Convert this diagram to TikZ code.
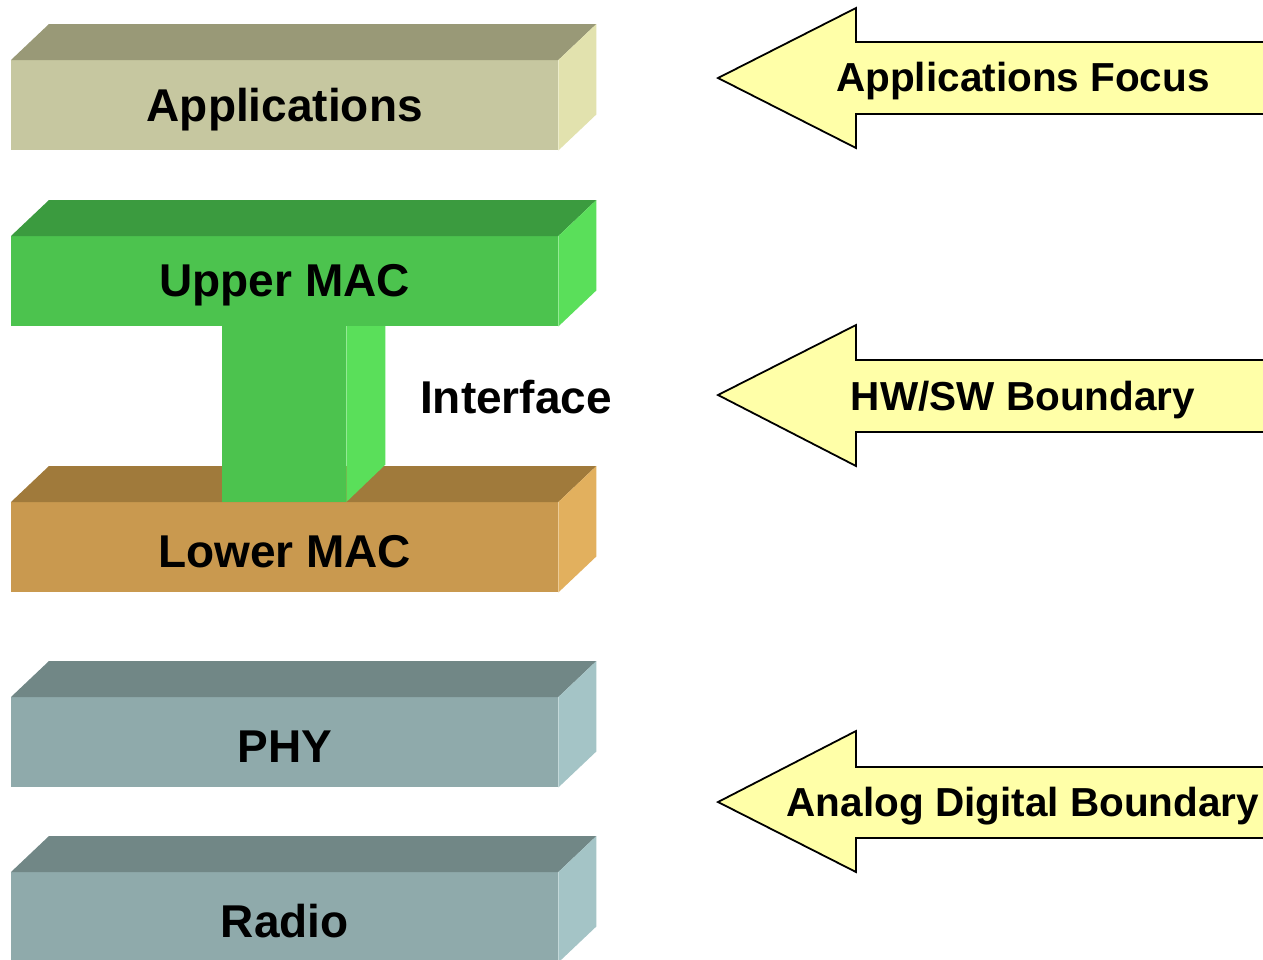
\documentclass[tikz,border=0pt]{standalone}
\usepackage{fontspec}
\setmainfont{Liberation Sans}
\definecolor{appF}{HTML}{C6C7A0}
\definecolor{appT}{HTML}{999977}
\definecolor{appS}{HTML}{E2E2AE}
\definecolor{umF}{HTML}{4CC34E}
\definecolor{umT}{HTML}{3B9B3F}
\definecolor{umS}{HTML}{5ADF5A}
\definecolor{lmF}{HTML}{C9994F}
\definecolor{lmT}{HTML}{A07A3B}
\definecolor{lmS}{HTML}{E2B05E}
\definecolor{phyF}{HTML}{8FAAAB}
\definecolor{phyT}{HTML}{718786}
\definecolor{phyS}{HTML}{A4C4C6}
\definecolor{arrowyellow}{HTML}{FFFFA8}
\newcommand\slablayer[6]{%
  \node[fill=#3, minimum width=547pt, minimum height=90pt, inner sep=0pt, anchor=north west] (#1) at (11,#2) {};
  \fill[#4] (#1.north west) -- ++(38,-36) -- ([shift={(38pt,36pt)}]#1.north east) -- (#1.north east) -- cycle;
  \fill[#5] (#1.north east) -- ++(38,-36) -- ([shift={(38pt,36pt)}]#1.south east) -- (#1.south east) -- cycle;
  \node[lbl, yshift=-4pt] (#1-t) at (#1.center) {#6};
}
\begin{document}
\begin{tikzpicture}[x=1pt,y=-1pt,
  lbl/.style={font=\fontsize{46}{50}\selectfont\bfseries},
  albl/.style={font=\fontsize{40.5}{44}\selectfont\bfseries},
  arrowbody/.style={fill=arrowyellow, draw=black, line width=1.8pt, line join=miter}]
\useasboundingbox (0,0) rectangle (1263,959);
\fill[white] (0,0) rectangle (1263,959);
% layers
\slablayer{app}{60}{appF}{appT}{appS}{Applications}
\slablayer{lmac}{502}{lmF}{lmT}{lmS}{Lower MAC}
% pillar (interface)
\node[fill=umF, minimum width=124pt, minimum height=200pt, inner sep=0pt, anchor=south west] (pillar) at (222,502) {};
\fill[umS] (pillar.north east) -- ++(39,0) -- ++(0,163) -- (pillar.south east) -- cycle;
\slablayer{umac}{236}{umF}{umT}{umS}{Upper MAC}
\slablayer{phy}{697}{phyF}{phyT}{phyS}{PHY}
\slablayer{radio}{872}{phyF}{phyT}{phyS}{Radio}
\node[lbl] (iface) at (516,397) {Interface};
% arrows
\draw[arrowbody] (1280,114) -- (856,114) -- (856,148) -- (718,78) -- (856,8) -- (856,42) -- (1280,42) -- cycle;
\node[albl] (af) at (1023,81) {Applications Focus};
\draw[arrowbody] (1280,432) -- (856,432) -- (856,466) -- (718,395) -- (856,325) -- (856,360) -- (1280,360) -- cycle;
\node[albl] (hw) at (1023,400) {HW/SW Boundary};
\draw[arrowbody] (1280,838) -- (856,838) -- (856,872) -- (718,802) -- (856,731) -- (856,767) -- (1280,767) -- cycle;
\node[albl] (ad) at (1023,806) {Analog Digital Boundary};
\end{tikzpicture}
\end{document}
